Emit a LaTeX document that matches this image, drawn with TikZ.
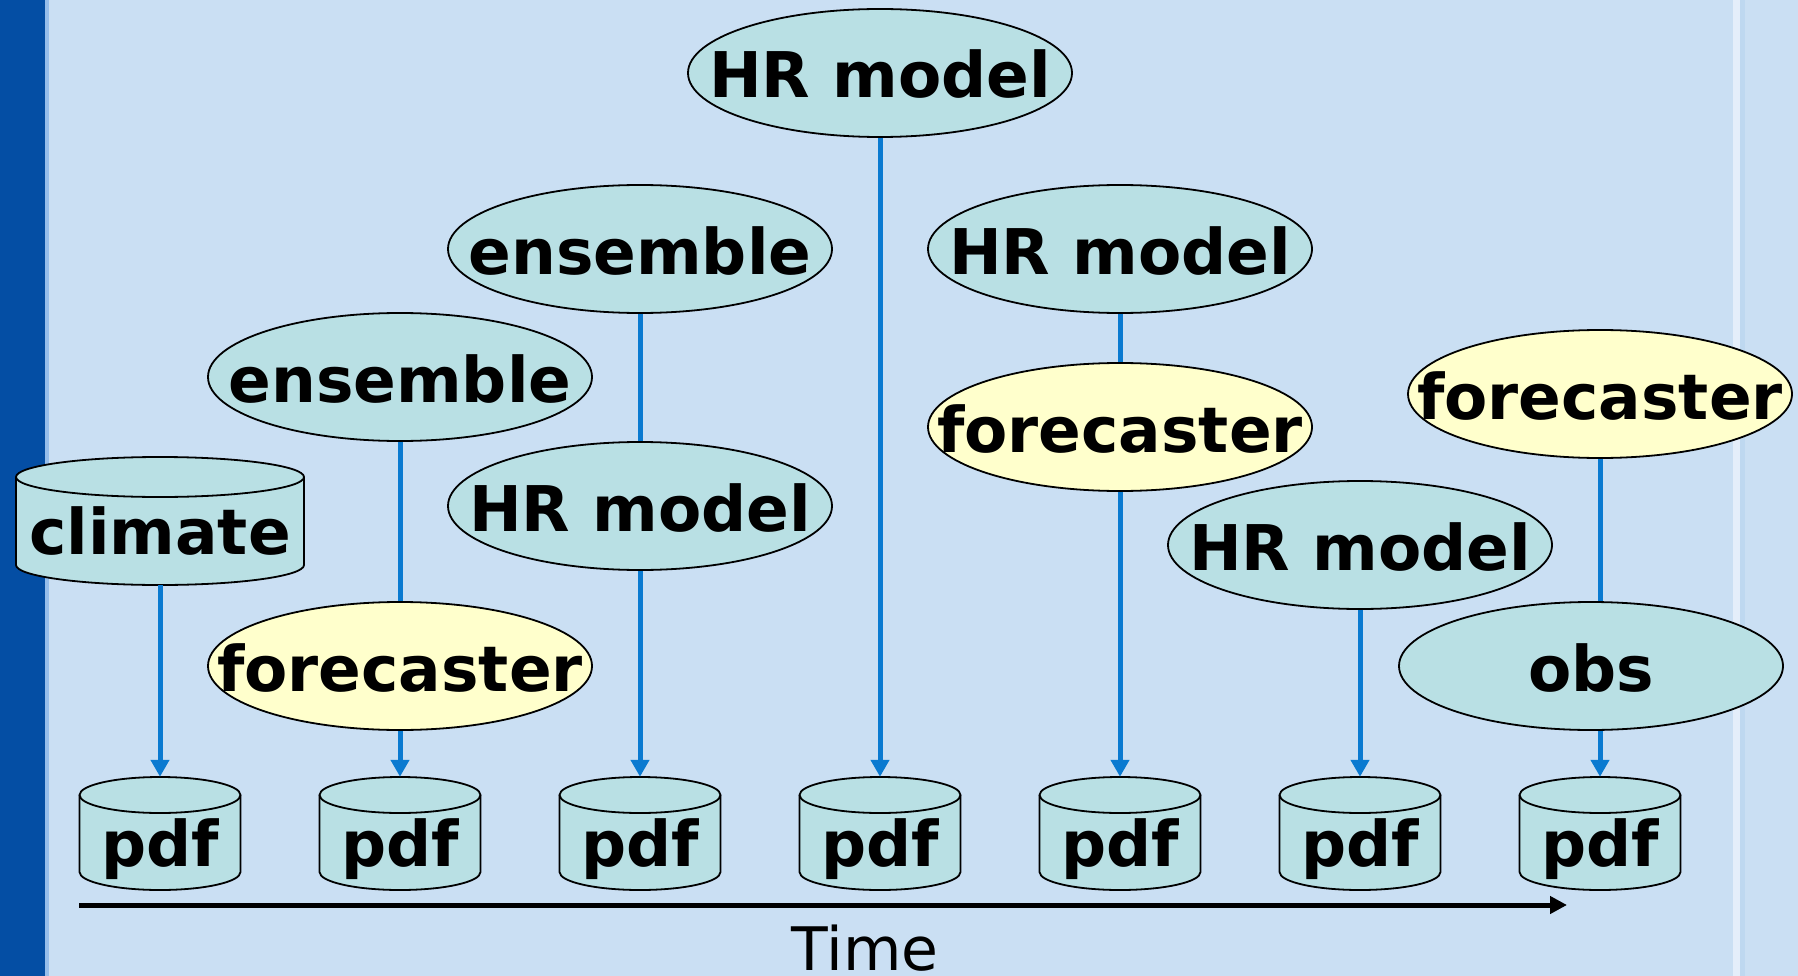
\documentclass[tikz,border=0pt]{standalone}
\usepackage{fontspec}
\setmainfont{DejaVu Sans}
\usetikzlibrary{shapes.geometric,arrows.meta}
\definecolor{bgcol}{RGB}{202,223,243}
\definecolor{stripcol}{RGB}{4,78,164}
\definecolor{stripedge}{RGB}{150,190,235}
\definecolor{rimlight}{RGB}{228,238,250}
\definecolor{rimblue}{RGB}{190,216,240}
\definecolor{tealfill}{RGB}{185,224,228}
\definecolor{yelfill}{RGB}{255,255,204}
\definecolor{linkblue}{RGB}{10,122,208}
\newcommand\lbl[1]{\raisebox{-25pt}[0pt][0pt]{\makebox[0pt]{#1}}}
\newcommand\clbl[1]{\raisebox{-33pt}[0pt][0pt]{\makebox[0pt]{#1}}}
\newcommand\cyl[7]{%
  \filldraw[cylbody] ({#2-#4},{#3+#5-#6}) -- ({#2-#4},{#3-#5+#6})
    arc[start angle=180,end angle=360,x radius=#4pt,y radius=#6pt]
    -- ({#2+#4},{#3+#5-#6})
    arc[start angle=0,end angle=180,x radius=#4pt,y radius=#6pt] -- cycle;
  \draw[cylbody,fill=none] ({#2-#4},{#3+#5-#6})
    arc[start angle=180,end angle=360,x radius=#4pt,y radius=#6pt];
  \node[cyltext,minimum width={2*#4pt},minimum height={2*#5pt}] (#1) at (#2,#3) {\clbl{#7}};
}
\tikzset{
  x=1pt,y=1pt,
  bigtext/.style={font=\fontsize{63}{63}\selectfont\bfseries},
  ell/.style={ellipse,draw=black,line width=1.8pt,fill=tealfill,inner sep=0pt,
    minimum width=384pt,minimum height=128pt,bigtext},
  yell/.style={ell,fill=yelfill},
  cylbody/.style={draw=black,line width=1.8pt,fill=tealfill},
  cyltext/.style={rectangle,inner sep=0pt,bigtext},
  link/.style={draw=linkblue,line width=5pt},
  arr/.style={link,-{Triangle[width=18pt,length=17pt]}},
  timearr/.style={draw=black,line width=5pt,-{Triangle[width=17pt,length=17pt]}},
}
\begin{document}
\begin{tikzpicture}
\useasboundingbox (0,0) rectangle (1798,-976);
\fill[bgcol] (0,0) rectangle (1798,-976);
\fill[stripcol] (0,0) rectangle (45,-976);
\fill[stripedge] (45,0) rectangle (49,-976);
\fill[rimlight] (1733,0) rectangle (1740,-976);
\fill[rimblue] (1740,0) rectangle (1745,-976);

% cylinders
\cyl{clim}{160}{-521}{144}{64}{20}{climate}
\cyl{p1}{160}{-833.5}{80.5}{56.5}{18}{pdf}
\cyl{p2}{400}{-833.5}{80.5}{56.5}{18}{pdf}
\cyl{p3}{640}{-833.5}{80.5}{56.5}{18}{pdf}
\cyl{p4}{880}{-833.5}{80.5}{56.5}{18}{pdf}
\cyl{p5}{1120}{-833.5}{80.5}{56.5}{18}{pdf}
\cyl{p6}{1360}{-833.5}{80.5}{56.5}{18}{pdf}
\cyl{p7}{1600}{-833.5}{80.5}{56.5}{18}{pdf}

% ellipses
\node[ell] (hrtop) at (880,-73) {\lbl{HR model}};
\node[ell] (ensm) at (640,-249) {\lbl{ensemble}};
\node[ell] (hrr) at (1120,-249) {\lbl{HR model}};
\node[ell] (ensl) at (400,-377) {\lbl{ensemble}};
\node[ell] (hrm) at (640,-506) {\lbl{HR model}};
\node[yell] (fcmr) at (1120,-427) {\lbl{forecaster}};
\node[yell] (fcr) at (1600,-394) {\lbl{forecaster}};
\node[ell] (hrrl) at (1360,-545) {\lbl{HR model}};
\node[yell] (fcl) at (400,-666) {\lbl{forecaster}};
\node[ell] (obs) at (1591,-666) {\lbl{obs}};

% connectors
\draw[arr] (clim.south) -- (p1.north);
\draw[link] (ensl.south) -- (fcl.north);
\draw[arr] (fcl.south) -- (p2.north);
\draw[link] (ensm.south) -- (hrm.north);
\draw[arr] (hrm.south) -- (p3.north);
\draw[arr] (hrtop.south) -- (p4.north);
\draw[link] (hrr.south) -- (fcmr.north);
\draw[arr] (fcmr.south) -- (p5.north);
\draw[arr] (hrrl.south) -- (p6.north);
\draw[link] (fcr.south) -- (obs.north -| fcr.south);
\draw[arr] (obs.south -| p7.north) -- (p7.north);

% time axis
\coordinate (t0) at (79,-905);
\coordinate (t1) at (1567,-905);
\draw[timearr] (t0) -- (t1);
\node[anchor=base,font=\fontsize{60}{60}\selectfont] (time) at (865,-970) {Time};
\end{tikzpicture}
\end{document}
